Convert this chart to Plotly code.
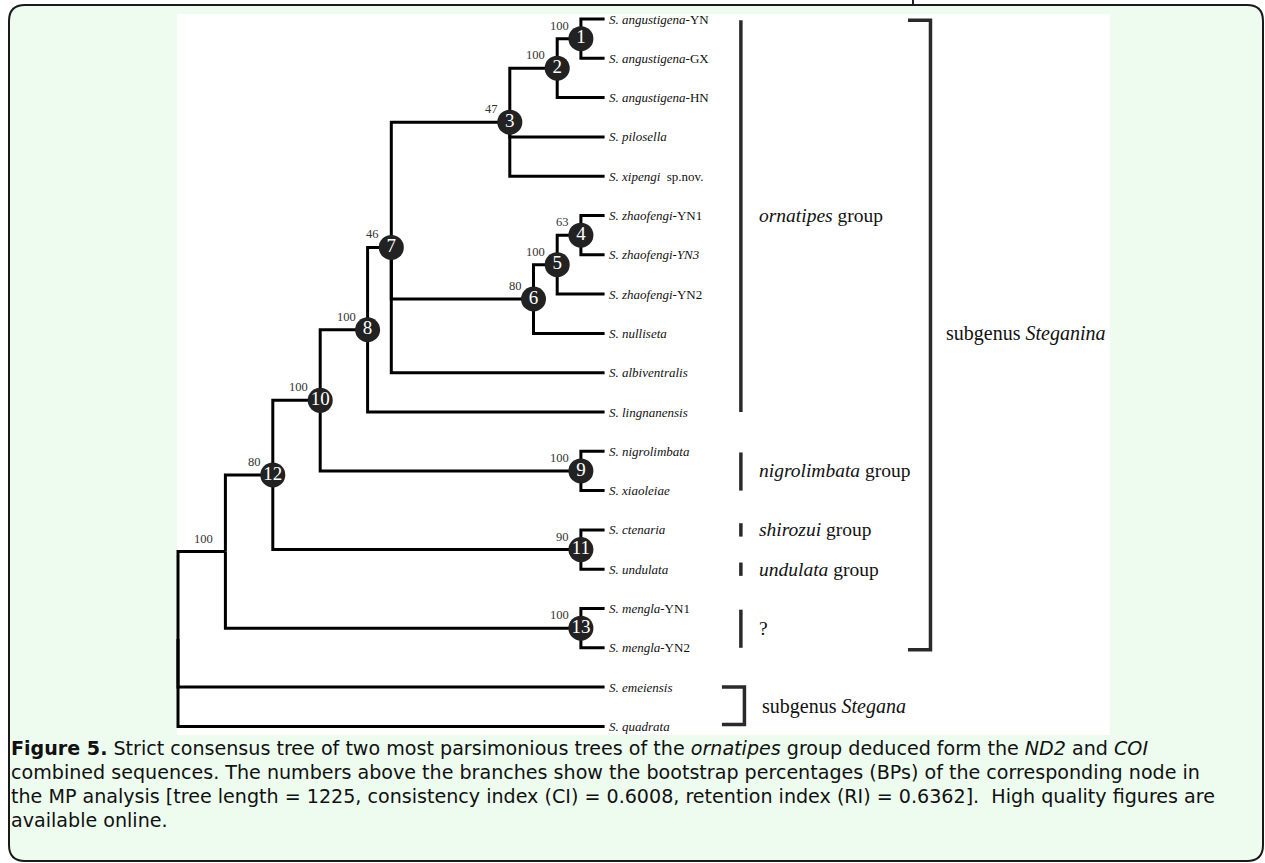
import plotly.graph_objects as go

# ---------------- data ----------------
leaf_names = [
    "<i>S. angustigena</i>-YN",
    "<i>S. angustigena</i>-GX",
    "<i>S. angustigena</i>-HN",
    "<i>S. pilosella</i>",
    "<i>S. xipengi</i>  sp.nov.",
    "<i>S. zhaofengi</i>-YN1",
    "<i>S. zhaofengi-YN3</i>",
    "<i>S. zhaofengi</i>-YN2",
    "<i>S. nulliseta</i>",
    "<i>S. albiventralis</i>",
    "<i>S. lingnanensis</i>",
    "<i>S. nigrolimbata</i>",
    "<i>S. xiaoleiae</i>",
    "<i>S. ctenaria</i>",
    "<i>S. undulata</i>",
    "<i>S. mengla</i>-YN1",
    "<i>S. mengla</i>-YN2",
    "<i>S. emeiensis</i>",
    "<i>S. quadrata</i>",
]
leaf_depth = 18

node_keys = ["N1", "N2", "N3", "N4", "N5", "N6", "N7", "N8", "N9", "N10", "N11", "N12", "N13", "N14", "ROOT"]
node_numbers = ["1", "2", "3", "4", "5", "6", "7", "8", "9", "10", "11", "12", "13", None, None]
node_depths = [17, 16, 14, 17, 16, 15, 9, 8, 17, 6, 17, 4, 17, 2, 0]
node_support = ["100", "100", "47", "63", "100", "80", "46", "100", "100", "100", "90", "80", "100", "100", None]
node_children = [
    ["L0", "L1"],
    ["N1", "L2"],
    ["N2", "L3", "L4"],
    ["L5", "L6"],
    ["N4", "L7"],
    ["N5", "L8"],
    ["N3", "N6", "L9"],
    ["N7", "L10"],
    ["L11", "L12"],
    ["N8", "N9"],
    ["L13", "L14"],
    ["N10", "N11"],
    ["L15", "L16"],
    ["N12", "N13"],
    ["N14", "L17", "L18"],
]

# group brackets: (label, first leaf, last leaf)
group_labels = ["<i>ornatipes</i> group", "<i>nigrolimbata</i> group", "<i>shirozui</i> group",
                "<i>undulata</i> group", "?"]
group_first = [0, 11, 13, 14, 15]
group_last = [10, 12, 13, 14, 16]
subgenus_labels = ["subgenus <i>Steganina</i>", "subgenus <i>Stegana</i>"]
subgenus_first = [0, 17]
subgenus_last = [16, 18]

caption_lines = [
    "<b>Figure 5.</b> Strict consensus tree of two most parsimonious trees of the <i>ornatipes</i> group deduced form the <i>ND2</i> and <i>COI</i>",
    "combined sequences. The numbers above the branches show the bootstrap percentages (BPs) of the corresponding node in",
    "the MP analysis [tree length = 1225, consistency index (CI) = 0.6008, retention index (RI) = 0.6362].  High quality figures are",
    "available online.",
]

# ---------------- layout constants ----------------
W, H = 1265, 863
X0_PX, UX = 178.0, 23.7      # pixel of depth 0, pixels per depth step
Y0_PX, UY = 19.0, 39.3       # pixel of leaf 0, pixels per leaf
TREE_COLOR = "#000000"
BAR_COLOR = "#2a2a2a"
GREEN = "#EDFCEF"
SERIF = "Liberation Serif, Times New Roman, serif"
SANS = "DejaVu Sans, Open Sans, sans-serif"

# ---------------- tree geometry ----------------
pos = {}
for i in range(len(leaf_names)):
    pos[f"L{i}"] = (leaf_depth, float(i))
info = dict(zip(node_keys, zip(node_depths, node_children)))


def get_pos(k):
    if k in pos:
        return pos[k]
    d, ch = info[k]
    ys = [get_pos(c)[1] for c in ch]
    pos[k] = (d, (ys[0] + ys[-1]) / 2.0)
    return pos[k]


for k in node_keys:
    get_pos(k)

ex, ey = [], []
for k, ch in zip(node_keys, node_children):
    nx, ny = pos[k]
    for c in ch:
        cx, cy = pos[c]
        ex += [nx, nx, cx, None]
        ey += [ny, cy, cy, None]

fig = go.Figure()
fig.add_trace(go.Scatter(x=ex, y=ey, mode="lines",
                         line=dict(color=TREE_COLOR, width=3),
                         hoverinfo="skip", showlegend=False))

# group bars
bar_x = 23.75
bx, by = [], []
for f, l in zip(group_first, group_last):
    if f == l:
        bx += [bar_x, bar_x, None]
        by += [f - 0.17, f + 0.17, None]
    else:
        bx += [bar_x, bar_x, None]
        by += [f + 0.03, l, None]
fig.add_trace(go.Scatter(x=bx, y=by, mode="lines", line=dict(color=BAR_COLOR, width=3.5),
                         hoverinfo="skip", showlegend=False))

# subgenus brackets
brk = [(30.8, 31.75, 0.03, 16.05), (22.95, 23.9, 17.0, 17.95)]
sx, sy = [], []
for (a, b, y1, y2) in brk:
    sx += [a, b, b, a, None]
    sy += [y1, y1, y2, y2, None]
fig.add_trace(go.Scatter(x=sx, y=sy, mode="lines", line=dict(color=BAR_COLOR, width=3.5),
                         hoverinfo="skip", showlegend=False))

# node circles
cx_, cy_, ct_ = [], [], []
for k, num in zip(node_keys, node_numbers):
    if num is not None:
        cx_.append(pos[k][0])
        cy_.append(pos[k][1])
        ct_.append(num)
fig.add_trace(go.Scatter(x=cx_, y=cy_, mode="markers+text", text=ct_,
                         textposition="middle center",
                         marker=dict(size=25, color="#222222", line=dict(width=0)),
                         textfont=dict(family=SERIF, size=19, color="white"),
                         hoverinfo="skip", showlegend=False))

annotations = []
# leaf labels
for i, name in enumerate(leaf_names):
    annotations.append(dict(x=leaf_depth, y=i, text=name, showarrow=False,
                            xanchor="left", yanchor="middle", xshift=2,
                            font=dict(family=SERIF, size=13, color="#111111")))
# support values
for k, s in zip(node_keys, node_support):
    if s is not None:
        annotations.append(dict(x=pos[k][0], y=pos[k][1], text=s, showarrow=False,
                                xanchor="right", yanchor="middle", xshift=-10, yshift=13,
                                font=dict(family=SERIF, size=12.5, color="#333333")))
# group labels
for lab, f, l in zip(group_labels, group_first, group_last):
    annotations.append(dict(x=24.45, y=(f + l) / 2.0, text=lab, showarrow=False,
                            xanchor="left", yanchor="middle",
                            font=dict(family=SERIF, size=19.5, color="#111111")))
sub_x = [32.3, 24.55]
for lab, f, l, xx in zip(subgenus_labels, subgenus_first, subgenus_last, sub_x):
    annotations.append(dict(x=xx, y=(f + l) / 2.0, text=lab, showarrow=False,
                            xanchor="left", yanchor="middle",
                            font=dict(family=SERIF, size=20, color="#111111")))


def PX(px):
    return px / W


def PY(py):
    return 1 - py / H


# caption: one block; base size sets the 24 px line pitch, inner spans set glyph size
caption_text = "<br>".join(f"<span style='font-size:19.1px'>{ln}</span>" for ln in caption_lines)
annotations.append(dict(x=PX(10), y=PY(736), xref="paper", yref="paper",
                        text=caption_text, showarrow=False, xanchor="left", yanchor="top",
                        align="left", borderpad=0,
                        font=dict(family=SANS, size=18.4, color="#111111")))

# rounded frame
L_, R_, T_, B_, r = 9, 1263, 5, 861, 16


def P(px, py):
    return f"{PX(px):.6f},{PY(py):.6f}"


frame = (f"M {P(L_ + r, T_)} L {P(R_ - r, T_)} Q {P(R_, T_)} {P(R_, T_ + r)} "
         f"L {P(R_, B_ - r)} Q {P(R_, B_)} {P(R_ - r, B_)} L {P(L_ + r, B_)} "
         f"Q {P(L_, B_)} {P(L_, B_ - r)} L {P(L_, T_ + r)} Q {P(L_, T_)} {P(L_ + r, T_)} Z")

shapes = [
    dict(type="path", xref="paper", yref="paper", path=frame, fillcolor=GREEN,
         line=dict(color="#1a1a1a", width=2), layer="below"),
    dict(type="rect", xref="paper", yref="paper", x0=PX(177), x1=PX(1110), y0=PY(735), y1=PY(14),
         fillcolor="white", line=dict(width=0), layer="below"),
    dict(type="line", xref="paper", yref="paper", x0=PX(913), x1=PX(913), y0=PY(0), y1=PY(4),
         line=dict(color="#222222", width=2), layer="below"),
]

fig.update_layout(
    width=W, height=H, autosize=False,
    margin=dict(l=0, r=0, t=0, b=0, pad=0),
    paper_bgcolor="white", plot_bgcolor="rgba(0,0,0,0)",
    xaxis=dict(range=[-X0_PX / UX, (W - X0_PX) / UX], visible=False, fixedrange=True),
    yaxis=dict(range=[(H - Y0_PX) / UY, -Y0_PX / UY], visible=False, fixedrange=True),
    shapes=shapes, annotations=annotations, showlegend=False,
)

fig.write_html("out.html", config={"displayModeBar": False},
               post_script="document.body.style.margin='0px';document.body.style.padding='0px';")
